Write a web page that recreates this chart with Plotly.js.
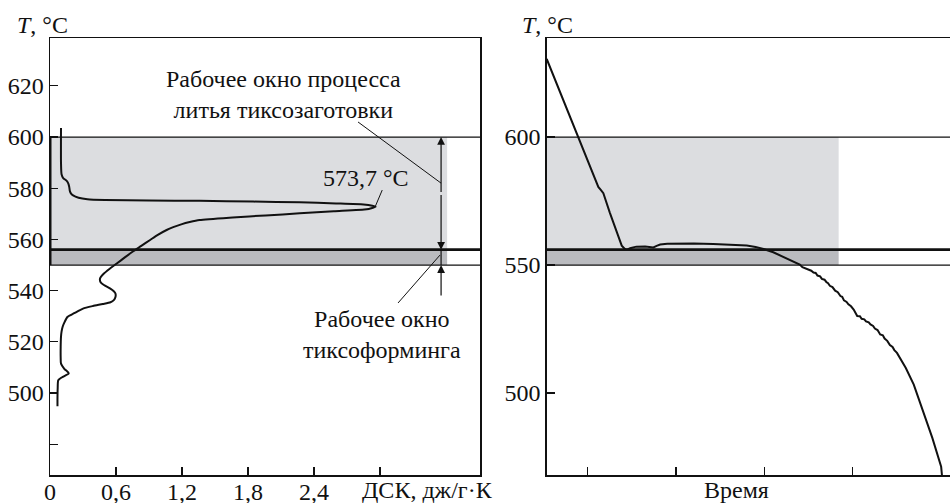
<!DOCTYPE html>
<html>
<head>
<meta charset="utf-8">
<script src="https://cdn.plot.ly/plotly-3.0.1.min.js"></script>
<style>html,body{margin:0;padding:0;background:#fff;}#chart{width:950px;height:503px;}</style>
</head>
<body>
<div id="chart"></div>
<script>
// ---- Data: DSC curve (left panel) ----
const dscT = [603.5,590,585.5,584,583,582,580.5,579,578,577.2,576.3,575.7,575.4,575.2,575.1,574.8,574.5,574.1,573.7,573.2,572.8,572.2,571.8,571.0,570.2,569.4,568.6,567.6,566.8,566.0,564.8,563.7,561.8,559.8,557.5,555.2,553.0,550.7,548.5,546.7,544.8,543.3,542.2,540.9,539.8,538.9,537.5,536.3,535.5,534.8,534.0,533.0,531.2,529.8,527.5,525.9,524,522,518,514,511.5,509.5,507.7,506.2,505,502,498,494.9];
const dscValue = [0.10,0.10,0.105,0.12,0.15,0.165,0.175,0.18,0.19,0.21,0.26,0.34,0.5,0.9,1.36,1.85,2.27,2.6,2.85,2.93,2.96,2.92,2.88,2.58,2.27,1.96,1.66,1.36,1.27,1.2,1.12,1.06,0.98,0.91,0.83,0.75,0.68,0.61,0.54,0.49,0.455,0.46,0.49,0.545,0.58,0.595,0.595,0.58,0.55,0.48,0.39,0.3,0.22,0.16,0.13,0.115,0.105,0.1,0.097,0.097,0.1,0.13,0.17,0.11,0.075,0.07,0.068,0.068];

// ---- Data: cooling curve (right panel) ----
const timeVals = [0.536,0.875,1.12,1.15,1.177,1.25,1.385,1.42,1.44,1.48,1.55,1.65,1.70,1.743,1.78,1.82,1.9,2.045,2.2,2.42,2.6,2.8,2.9,2.99,3.1,3.18,3.25,3.30,3.34,3.37,3.40,3.43,3.45,3.48,3.50,3.53,3.555,3.58,3.6,3.63,3.65,3.68,3.70,3.72,3.74,3.77,3.80,3.83,3.86,3.88,3.90,3.93,3.95,3.98,4.01,4.05,4.08,4.10,4.13,4.15,4.18,4.2,4.23,4.25,4.28,4.31,4.34,4.36,4.39,4.42,4.45,4.47,4.5,4.6,4.69,4.80,4.9,5.0,5.009];
const tempVals = [630.5,601.5,580.5,579.3,578.1,570.5,557.6,556.3,555.9,556.6,557.2,557.3,557.0,556.9,557.5,558.0,558.3,558.4,558.4,558.2,558.0,557.6,557.1,556.3,555.0,553.7,552.5,551.8,551.2,550.4,550.2,549.2,548.9,548.6,548.0,547.8,547.1,546.9,545.9,545.6,544.6,544.3,543.4,542.9,541.9,541.4,540.0,539.4,537.9,537.6,536.2,535.6,534.7,533.9,532.6,530.1,530.0,529.0,528.8,528.0,527.6,526.8,526.2,525.2,524.6,522.9,522.6,521.3,520.4,518.8,518.0,516.8,515.7,509.8,503.3,492.8,482.5,471.2,467.9];

// ---- Tick labels / key values ----
const dscTickVals = [0,0.6,1.2,1.8,2.4,3.0];
const dscTickText = ['0','0,6','1,2','1,8','2,4',''];
const leftTempTicks = [480,500,520,540,560,580,600,620];
const leftTempText = ['','500','520','540','560','580','600','620'];
const rightTempTicks = [500,550,600];
const timeTicks = [1,2,3,4];
const castWindowTop = 600;
const thixoTop = 556;
const thixoBottom = 550;
const peakLabel = '573,7 °C';

const F = 'Liberation Serif, Times New Roman, serif';
const FS = 24;
const light = 'rgb(220,221,224)';
const dark = 'rgb(186,187,191)';
const yRange = [468, 638.7];

const traces = [
  {x: dscValue, y: dscT, xaxis:'x', yaxis:'y', mode:'lines', line:{color:'#111', width:2, shape:'spline', smoothing:0.6}, hoverinfo:'skip'},
  {x: timeVals, y: tempVals, xaxis:'x2', yaxis:'y2', mode:'lines', line:{color:'#111', width:2}, hoverinfo:'skip'}
];

function bandShapes(xr, xEnd) {
  const dom = xr + ' domain';
  const yr = xr === 'x' ? 'y' : 'y2';
  return [
    {type:'rect', xref:xr, yref:yr, x0:0, x1:xEnd, y0:thixoTop, y1:castWindowTop, fillcolor:light, line:{width:0}, layer:'below'},
    {type:'rect', xref:xr, yref:yr, x0:0, x1:xEnd, y0:thixoBottom, y1:thixoTop, fillcolor:dark, line:{width:0}, layer:'below'},
    {type:'line', xref:dom, yref:yr, x0:0, x1:1, y0:castWindowTop, y1:castWindowTop, line:{color:'#111', width:1.2}},
    {type:'line', xref:dom, yref:yr, x0:0, x1:1, y0:thixoTop, y1:thixoTop, line:{color:'#111', width:2.8}},
    {type:'line', xref:dom, yref:yr, x0:0, x1:1, y0:thixoBottom, y1:thixoBottom, line:{color:'#111', width:1.2}}
  ];
}

const leftRectEnd = 3.61;
const rightRectEnd = 3.84;
const arrowX = 3.555;

const shapes = [].concat(
  bandShapes('x', leftRectEnd),
  bandShapes('x2', rightRectEnd),
  [
    {type:'line', xref:'x', yref:'y', x0:0, x1:0, y0:thixoBottom, y1:castWindowTop, line:{color:'#111', width:3}},
    {type:'line', xref:'x', yref:'y', x0:arrowX, x1:arrowX, y0:thixoBottom, y1:thixoTop, line:{color:'#111', width:1.2}},
    {type:'line', xref:'x', yref:'y', x0:2.8, x1:arrowX, y0:605.9, y1:582, line:{color:'#111', width:1}},
    {type:'line', xref:'x', yref:'y', x0:3.164, x1:3.545, y0:535.2, y1:553.9, line:{color:'#111', width:1}},
    {type:'line', xref:'x', yref:'y', x0:3.02, x1:2.955, y0:579.3, y1:572.7, line:{color:'#111', width:1}}
  ]
);

function arrow(xh, yh, ya) {
  return {xref:'x', yref:'y', axref:'x', ayref:'y', x:xh, y:yh, ax:xh, ay:ya, text:'', showarrow:true,
          arrowhead:2, arrowsize:1.3, arrowwidth:1.2, arrowcolor:'#111'};
}

const annotations = [
  arrow(arrowX, castWindowTop, 578),
  arrow(arrowX, thixoTop, 578),
  arrow(arrowX, thixoBottom, 537.5),
  {xref:'x', yref:'y', x:2.12, y:616.8, text:'Рабочее окно процесса<br>литья тиксозаготовки', showarrow:false, font:{family:F, size:FS, color:'#111'}},
  {xref:'x', yref:'y', x:2.875, y:584.2, text:peakLabel, showarrow:false, font:{family:F, size:FS, color:'#111'}},
  {xref:'x', yref:'y', x:3.02, y:522.7, text:'Рабочее окно<br>тиксоформинга', showarrow:false, font:{family:F, size:FS, color:'#111'}},
  {xref:'paper', yref:'paper', x:-0.0389, y:1.0297, xanchor:'left', yanchor:'middle', text:'<i>T</i>, °C', showarrow:false, font:{family:F, size:FS, color:'#111'}},
  {xref:'paper', yref:'paper', x:0.5222, y:1.0297, xanchor:'left', yanchor:'middle', text:'<i>T</i>, °C', showarrow:false, font:{family:F, size:FS, color:'#111'}},
  {xref:'paper', yref:'paper', x:0.419, y:-0.0343, xanchor:'center', yanchor:'middle', text:'ДСК, дж/г·К', showarrow:false, font:{family:F, size:FS, color:'#111'}},
  {xref:'paper', yref:'paper', x:0.7633, y:-0.0343, xanchor:'center', yanchor:'middle', text:'Время', showarrow:false, font:{family:F, size:FS, color:'#111'}}
];

const axisBase = {showgrid:false, zeroline:false, showline:true, linecolor:'#111', linewidth:1.5, mirror:true,
                  ticks:'inside', ticklen:8, tickwidth:1.2, tickcolor:'#111', tickfont:{family:F, size:FS, color:'#111'}};

const layout = {
  width:950, height:503,
  margin:{l:50, r:0, t:38, b:28},
  paper_bgcolor:'#fff', plot_bgcolor:'#fff',
  showlegend:false,
  font:{family:F, size:FS, color:'#111'},
  xaxis: Object.assign({}, axisBase, {domain:[0, 0.4778], range:[0, 3.909], tickmode:'array', tickvals:dscTickVals, ticktext:dscTickText, ticklabelstandoff:-5, anchor:'y'}),
  yaxis: Object.assign({}, axisBase, {domain:[0,1], range:yRange, tickmode:'array', tickvals:leftTempTicks, ticktext:leftTempText, anchor:'x'}),
  xaxis2: Object.assign({}, axisBase, {domain:[0.5519, 1], range:[0.536, 5.10], tickmode:'array', tickvals:timeTicks, showticklabels:false, anchor:'y2'}),
  yaxis2: Object.assign({}, axisBase, {domain:[0,1], range:yRange, tickmode:'array', tickvals:rightTempTicks, anchor:'x2'}),
  shapes: shapes,
  annotations: annotations
};

Plotly.newPlot('chart', traces, layout, {staticPlot:true, displayModeBar:false});
</script>
</body>
</html>
